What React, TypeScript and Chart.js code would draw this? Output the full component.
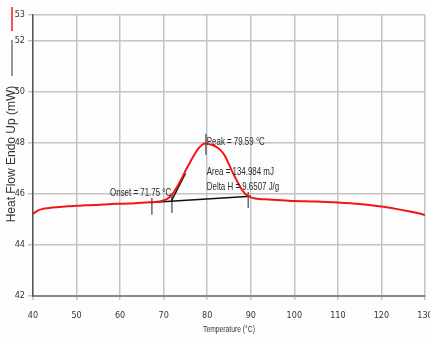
import React, { useEffect, useRef } from "react";
import { Chart, registerables } from "chart.js";

Chart.register(...registerables);

// Heat-flow curve (°C, mW)
const temperature = [
  40, 41, 42, 44, 46, 48, 50, 52, 54, 56, 58, 60, 62, 64, 66, 68, 69, 70, 71, 72, 73, 74, 75, 76, 77, 78, 79,
  79.59, 80, 81, 82, 83, 84, 85, 86, 87, 88, 89, 90, 91, 92, 94, 96, 98, 100, 105, 110, 115, 120, 123, 126, 128, 130,
];
const heatFlow = [
  45.22, 45.33, 45.4, 45.45, 45.48, 45.51, 45.53, 45.55, 45.56, 45.58, 45.6, 45.61, 45.62, 45.64, 45.66, 45.68,
  45.7, 45.74, 45.82, 45.98, 46.25, 46.55, 46.9, 47.22, 47.52, 47.78, 47.94, 47.97, 47.96, 47.92, 47.85, 47.72,
  47.5, 47.15, 46.78, 46.45, 46.15, 45.95, 45.86, 45.82, 45.8, 45.78, 45.76, 45.74, 45.72, 45.7, 45.66, 45.6,
  45.5, 45.42, 45.33, 45.26, 45.17,
];

// Analysis construction lines
const baselineT = [67, 90];
const baselineV = [45.66, 45.9];
const tangentT = [71.75, 75.0];
const tangentV = [45.71, 46.8];

// Short vertical marker lines: [temperature, low, high]
const markerT = [67.3, 71.9, 79.7, 89.4];
const markerLow = [45.18, 45.25, 47.53, 45.45];
const markerHigh = [45.84, 45.96, 48.35, 46.08];

// Annotation texts and their anchors (data units)
const noteText = ["Peak = 79.59 °C", "Area = 134.984 mJ", "Delta H = 9.6507 J/g", "Onset = 71.75 °C"];
const noteT = [79.9, 79.9, 79.9, 57.7];
const noteV = [48.04, 46.86, 46.27, 46.04];

// Axis ticks
const yTicks = [42, 44, 46, 48, 50, 52, 53];
const xMin = 40;
const xMax = 130;
const xStep = 10;

const yTitle = "Heat Flow Endo Up (mW)";
const xTitle = "Temperature (°C)";

const NARROW = "'Liberation Sans Narrow', 'DejaVu Sans Condensed', 'Liberation Sans', Arial, sans-serif";
const SANS = "'Liberation Sans', Arial, sans-serif";

export default function App() {
  const ref = useRef<HTMLCanvasElement | null>(null);

  useEffect(() => {
    if (!ref.current) return;

    const markerSets = markerT.map((t, i) => ({
      data: [
        { x: t, y: markerLow[i] },
        { x: t, y: markerHigh[i] },
      ],
      borderColor: "#222",
      borderWidth: 1,
      pointRadius: 0,
      showLine: true,
    }));

    const condensedText = (ctx: any, text: string, x: number, y: number, sx: number) => {
      ctx.save();
      ctx.translate(x, y);
      ctx.scale(sx, 1);
      ctx.fillText(text, 0, 0);
      ctx.restore();
    };

    const textPlugin = {
      id: "texts",
      afterDraw(chart: any) {
        const ctx = chart.ctx;
        const xs = chart.scales.x;
        const ys = chart.scales.y;
        const area = chart.chartArea;
        ctx.save();
        // annotation texts
        ctx.fillStyle = "#2a2a2a";
        ctx.font = `11px ${SANS}`;
        ctx.textBaseline = "middle";
        ctx.textAlign = "left";
        noteText.forEach((t, i) => {
          condensedText(ctx, t, xs.getPixelForValue(noteT[i]), ys.getPixelForValue(noteV[i]), 0.72);
        });
        // y title with legend markers
        ctx.strokeStyle = "#ff5050";
        ctx.lineWidth = 2;
        ctx.beginPath();
        ctx.moveTo(12, 7);
        ctx.lineTo(12, 31);
        ctx.stroke();
        ctx.strokeStyle = "#333";
        ctx.lineWidth = 1;
        ctx.beginPath();
        ctx.moveTo(12, 40);
        ctx.lineTo(12, 76);
        ctx.stroke();
        ctx.save();
        ctx.translate(12, 154);
        ctx.rotate(-Math.PI / 2);
        ctx.fillStyle = "#333";
        ctx.font = `12px ${SANS}`;
        ctx.textAlign = "center";
        ctx.fillText(yTitle, 0, 0);
        ctx.restore();
        // x title
        ctx.font = `9px ${SANS}`;
        ctx.fillStyle = "#333";
        ctx.textAlign = "center";
        condensedText(ctx, xTitle, (area.left + area.right) / 2, 330, 0.75);
        ctx.restore();
      },
    };

    const chart = new Chart(ref.current, {
      type: "scatter",
      data: {
        datasets: [
          {
            data: temperature.map((t, i) => ({ x: t, y: heatFlow[i] })),
            borderColor: "rgb(245,20,20)",
            borderWidth: 2,
            pointRadius: 0,
            showLine: true,
            tension: 0.3,
          },
          {
            data: baselineT.map((t, i) => ({ x: t, y: baselineV[i] })),
            borderColor: "#111",
            borderWidth: 1.5,
            pointRadius: 0,
            showLine: true,
          },
          {
            data: tangentT.map((t, i) => ({ x: t, y: tangentV[i] })),
            borderColor: "#111",
            borderWidth: 1.5,
            pointRadius: 0,
            showLine: true,
          },
          ...markerSets,
        ] as any,
      },
      options: {
        animation: false,
        responsive: false,
        maintainAspectRatio: false,
        layout: { padding: { top: 15, right: 5, left: 0, bottom: 0 } },
        plugins: {
          legend: { display: false },
          tooltip: { enabled: false },
        },
        scales: {
          x: {
            type: "linear",
            min: xMin,
            max: xMax,
            ticks: {
              stepSize: xStep,
              color: "#333",
              font: { family: NARROW, size: 9 },
              padding: 10,
              maxRotation: 0,
            },
            grid: { color: "#c4c4c4", lineWidth: 1.5, tickLength: 4 },
            border: { color: "#888", width: 2 },
            afterFit(scale: any) {
              scale.height = 47;
              scale.paddingRight = 0;
            },
          },
          y: {
            type: "linear",
            min: 42,
            max: 53,
            afterBuildTicks(scale: any) {
              scale.ticks = yTicks.map((v) => ({ value: v }));
            },
            ticks: {
              color: "#333",
              font: { family: NARROW, size: 9 },
              padding: 3,
            },
            grid: { color: "#c4c4c4", lineWidth: 1.5, tickLength: 5 },
            border: { color: "#555", width: 1.5 },
            afterFit(scale: any) {
              scale.width = 33;
            },
          },
        },
      },
      plugins: [textPlugin],
    });

    return () => chart.destroy();
  }, []);

  return (
    <div style={{ position: "fixed", left: 0, top: 0, width: 430, height: 343, background: "#fdfdfd" }}>
      <canvas ref={ref} width={430} height={343} style={{ display: "block" }} />
    </div>
  );
}
